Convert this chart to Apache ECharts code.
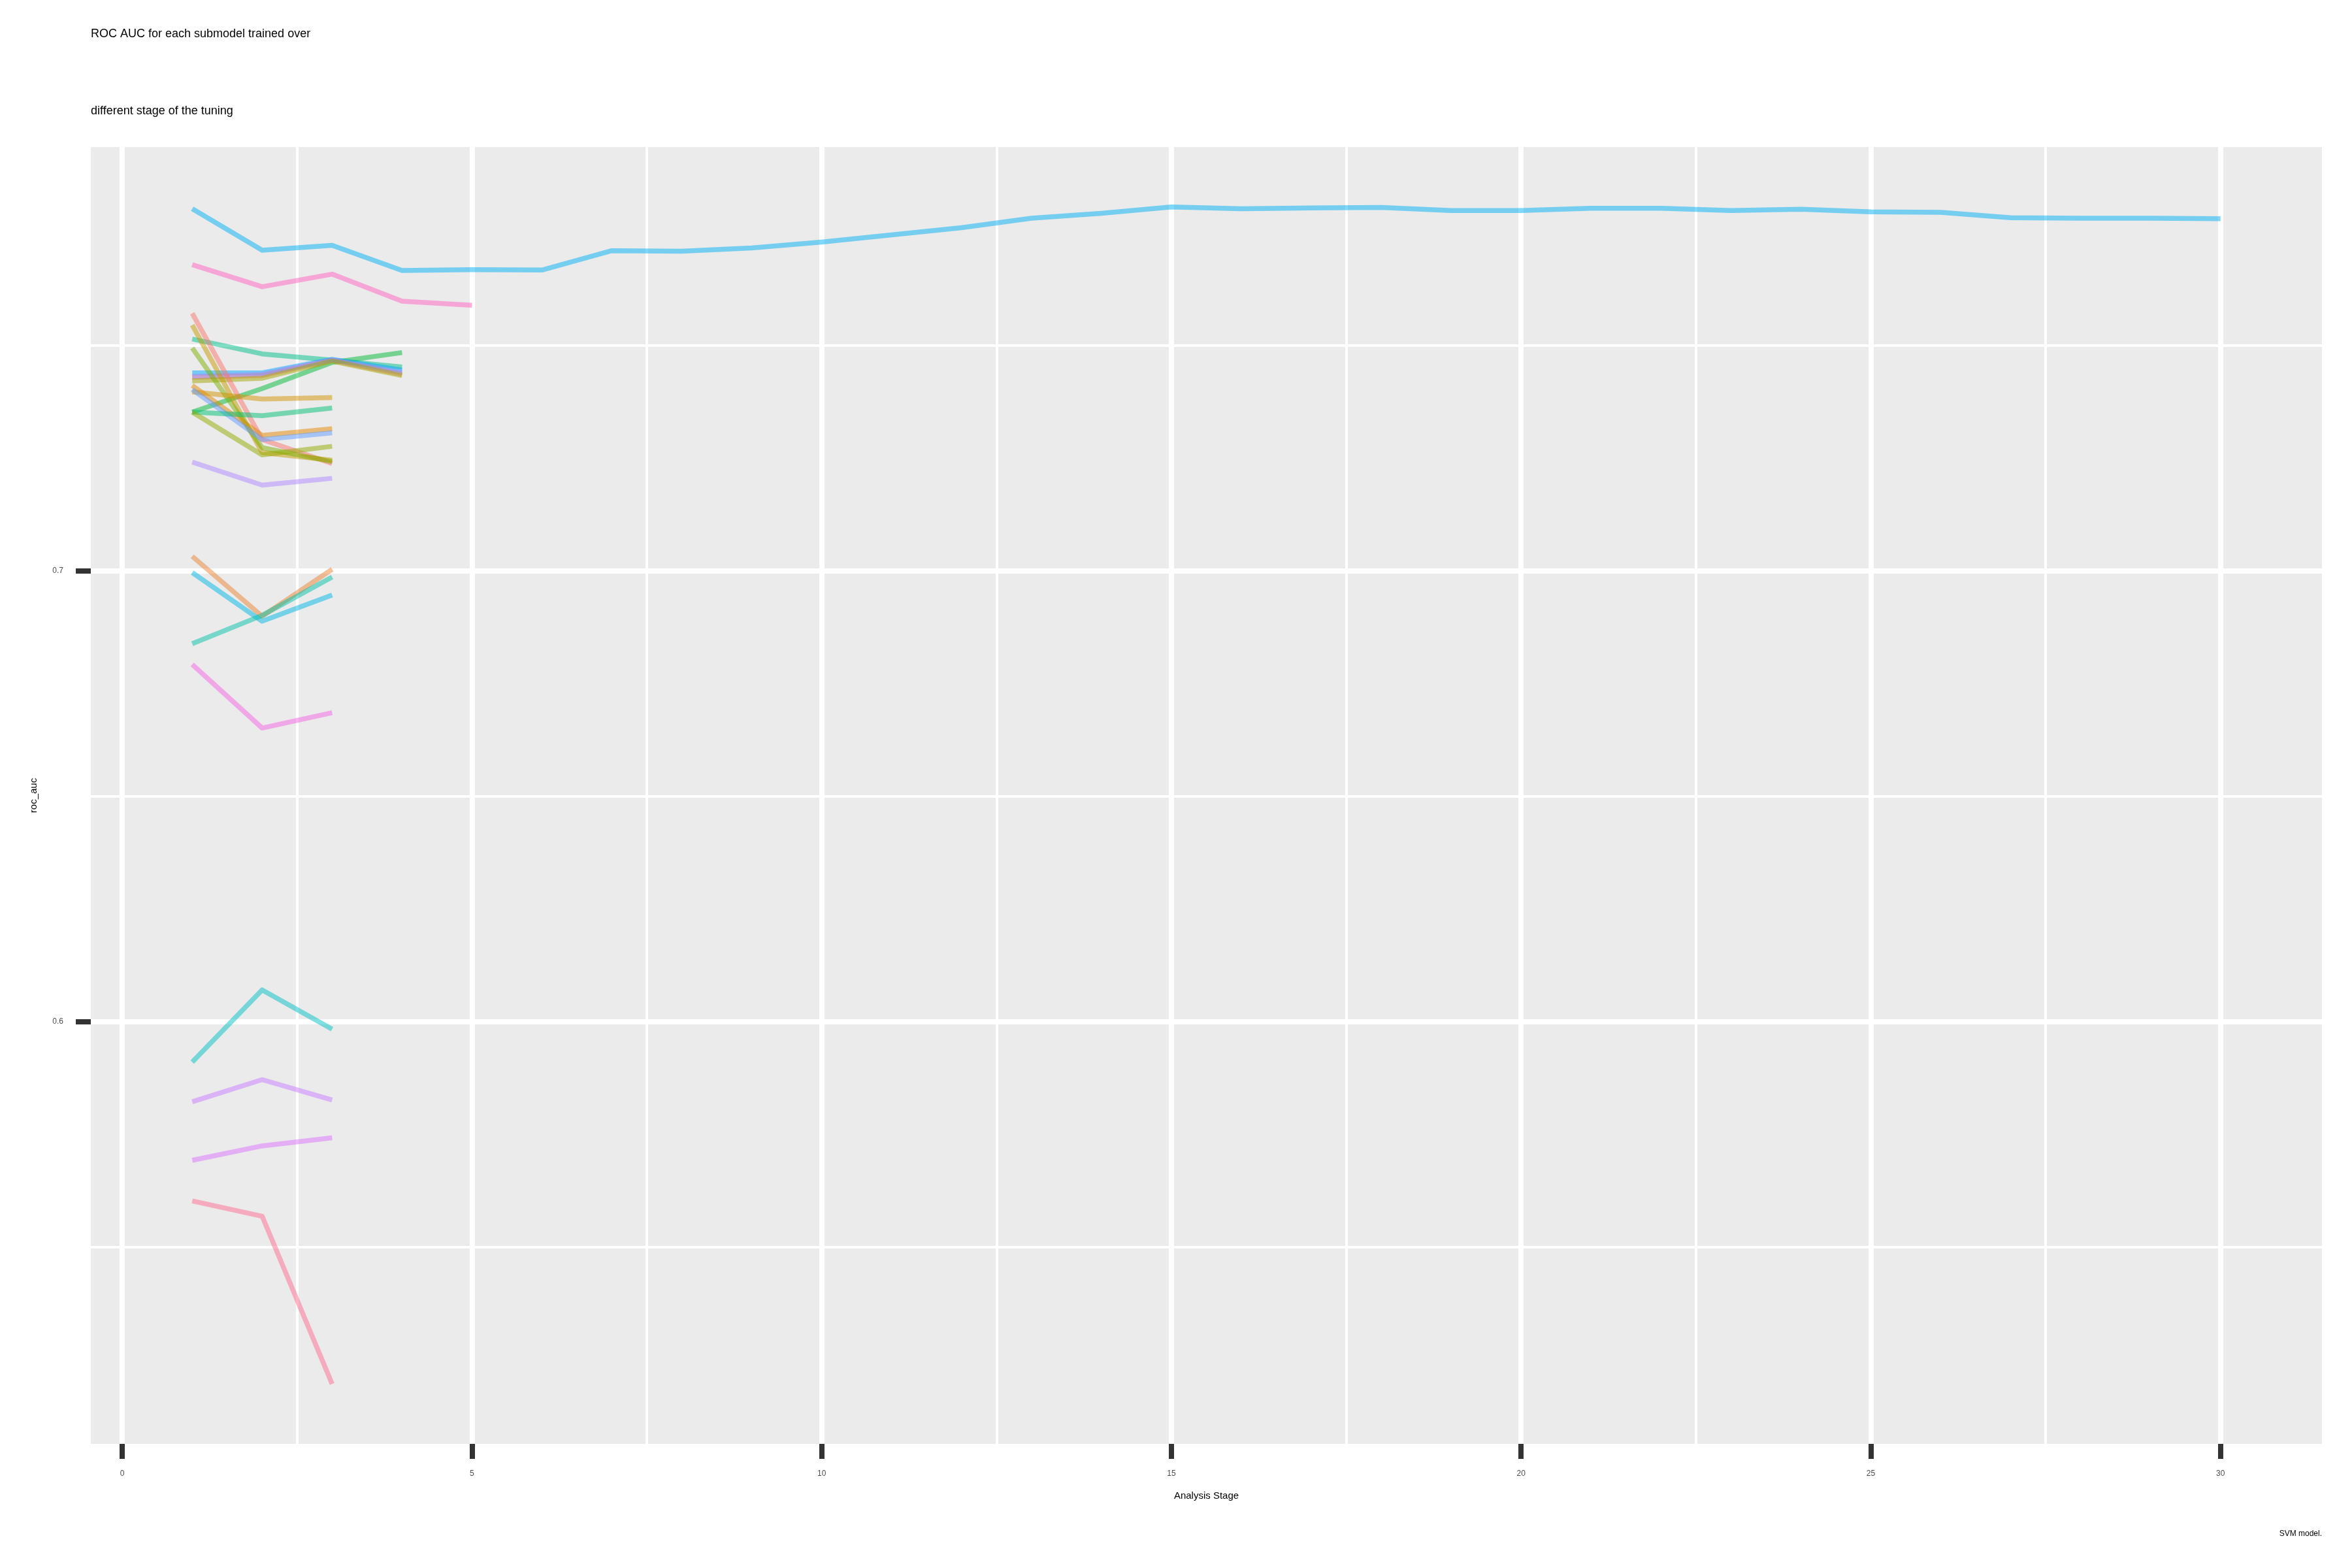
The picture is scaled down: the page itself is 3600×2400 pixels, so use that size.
<!DOCTYPE html>
<html>
<head>
<meta charset="utf-8">
<title>ROC AUC for each submodel</title>
<script src="https://cdn.jsdelivr.net/npm/echarts@6/dist/echarts.min.js"></script>
<style>
  html, body { margin: 0; padding: 0; background: #ffffff; }
  #graph_auc { width: 3600px; height: 2400px; }
</style>
</head>
<body>
<div id="graph_auc"></div>
<script>
// analysis stages (x) and the axis breaks
var stage = [1, 2, 3, 4, 5, 6, 7, 8, 9, 10, 11, 12, 13, 14, 15,
             16, 17, 18, 19, 20, 21, 22, 23, 24, 25, 26, 27, 28, 29, 30];
var xBreaks = [0, 5, 10, 15, 20, 25, 30];
var yBreaks = [0.6, 0.7];

// roc_auc of each submodel, one value per stage it was kept in
var auc_m01 = [0.7803, 0.7711, 0.7722, 0.7666, 0.7668, 0.7667, 0.7710, 0.7709, 0.7716, 0.7729,
               0.7745, 0.7761, 0.7782, 0.7793, 0.7807, 0.7803, 0.7805, 0.7806, 0.7799, 0.7799,
               0.7804, 0.7804, 0.7799, 0.7802, 0.7796, 0.7795, 0.7783, 0.7782, 0.7782, 0.7781];
var auc_m02 = [0.7679, 0.7630, 0.7658, 0.7598, 0.7589];
var auc_m03 = [0.7514, 0.7481, 0.7467, 0.7452];
var auc_m04 = [0.7352, 0.7404, 0.7462, 0.7484];
var auc_m05 = [0.7439, 0.7439, 0.7469, 0.7445];
var auc_m06 = [0.7429, 0.7433, 0.7467, 0.7436];
var auc_m07 = [0.7431, 0.7436, 0.7468, 0.7440];
var auc_m08 = [0.7421, 0.7427, 0.7465, 0.7433];
var auc_m09 = [0.7571, 0.7291, 0.7238];
var auc_m10 = [0.7545, 0.7262, 0.7245];
var auc_m11 = [0.7494, 0.7273, 0.7242];
var auc_m12 = [0.7411, 0.7300, 0.7315];
var auc_m13 = [0.7397, 0.7381, 0.7384];
var auc_m14 = [0.7402, 0.7291, 0.7306];
var auc_m15 = [0.7352, 0.7344, 0.7361];
var auc_m16 = [0.7352, 0.7257, 0.7276];
var auc_m17 = [0.7241, 0.7190, 0.7205];
var auc_m18 = [0.7032, 0.6899, 0.7003];
var auc_m19 = [0.6996, 0.6888, 0.6946];
var auc_m20 = [0.6838, 0.6901, 0.6986];
var auc_m21 = [0.6792, 0.6651, 0.6685];
var auc_m22 = [0.5910, 0.6070, 0.5983];
var auc_m23 = [0.5822, 0.5871, 0.5826];
var auc_m24 = [0.5692, 0.5724, 0.5742];
var auc_m25 = [0.5602, 0.5568, 0.5196];

var submodels = ['Model01', 'Model02', 'Model03', 'Model04', 'Model05', 'Model06', 'Model07',
                 'Model08', 'Model09', 'Model10', 'Model11', 'Model12', 'Model13', 'Model14',
                 'Model15', 'Model16', 'Model17', 'Model18', 'Model19', 'Model20', 'Model21',
                 'Model22', 'Model23', 'Model24', 'Model25'];
var aucAll = [auc_m01, auc_m02, auc_m03, auc_m04, auc_m05, auc_m06, auc_m07, auc_m08, auc_m09,
              auc_m10, auc_m11, auc_m12, auc_m13, auc_m14, auc_m15, auc_m16, auc_m17, auc_m18,
              auc_m19, auc_m20, auc_m21, auc_m22, auc_m23, auc_m24, auc_m25];

// ggplot-like hue colours
var palette = ['#00B0F6', '#FF61C3', '#00C08B', '#00BA38', '#00A9FF', '#F8766D', '#9590FF',
               '#A3A500', '#F8766D', '#C49A00', '#7CAE00', '#E58700', '#D39200', '#619CFF',
               '#00BF74', '#93AA00', '#AE87FF', '#EA8331', '#00B8E5', '#00C1A7', '#F564E3',
               '#00BFC4', '#C77CFF', '#DB72FB', '#FF6C91'];

var fontFam = 'Liberation Sans, Arial, Helvetica, sans-serif';

function drawGraph_auc() {
  var graph_auc = echarts.init(document.getElementById('graph_auc'), null, { renderer: 'canvas' });

  var series = aucAll.map(function (vals, i) {
    return {
      name: submodels[i],
      type: 'line',
      data: vals.map(function (v, k) { return [stage[k], v]; }),
      symbol: 'none',
      silent: true,
      clip: true,
      itemStyle: { color: palette[i] },
      lineStyle: {
        color: palette[i],
        width: 7.5,
        opacity: 0.5,
        cap: 'butt',
        join: 'round'
      }
    };
  });

  graph_auc.setOption({
    animation: false,
    backgroundColor: '#ffffff',
    textStyle: { fontFamily: fontFam },
    title: [
      {
        text: 'ROC AUC for each submodel trained over',
        left: 139, top: 43, padding: 0,
        textStyle: { fontSize: 18, fontWeight: 'normal', color: '#000000', fontFamily: fontFam }
      },
      {
        text: 'different stage of the tuning',
        left: 139, top: 161, padding: 0,
        textStyle: { fontSize: 18, fontWeight: 'normal', color: '#000000', fontFamily: fontFam }
      },
      {
        text: 'SVM model.',
        right: 46, top: 2342, padding: 0,
        textStyle: { fontSize: 12, fontWeight: 'normal', color: '#000000', fontFamily: fontFam }
      }
    ],
    grid: {
      left: 139,
      right: 46,
      top: 225,
      bottom: 190,
      show: true,
      backgroundColor: '#EBEBEB',
      borderWidth: 0,
      containLabel: false,
      outerBoundsMode: 'none'
    },
    xAxis: {
      type: 'value',
      min: -0.45,
      max: 31.45,
      minInterval: 5,
      maxInterval: 5,
      name: 'Analysis Stage',
      nameLocation: 'middle',
      nameGap: 72,
      nameTextStyle: { fontSize: 15, color: '#000000', fontFamily: fontFam },
      axisLine: { show: false, onZero: false },
      axisTick: {
        show: true,
        customValues: xBreaks,
        length: 23,
        lineStyle: { color: '#333333', width: 8 }
      },
      axisLabel: {
        customValues: xBreaks,
        margin: 40,
        fontSize: 12,
        color: '#4D4D4D',
        fontFamily: fontFam
      },
      splitLine: {
        show: true,
        lineStyle: { color: '#FFFFFF', width: 8 }
      },
      minorTick: { show: false, splitNumber: 2 },
      minorSplitLine: { show: true, lineStyle: { color: '#FFFFFF', width: 4 } }
    },
    yAxis: {
      type: 'value',
      min: 0.5063,
      max: 0.7940,
      minInterval: 0.1,
      maxInterval: 0.1,
      name: 'roc_auc',
      nameLocation: 'middle',
      nameGap: 80,
      nameTextStyle: { fontSize: 15, color: '#000000', fontFamily: fontFam },
      axisLine: { show: false, onZero: false },
      axisTick: {
        show: true,
        customValues: yBreaks,
        length: 23,
        lineStyle: { color: '#333333', width: 8 }
      },
      axisLabel: {
        customValues: yBreaks,
        margin: 42,
        fontSize: 12,
        color: '#4D4D4D',
        fontFamily: fontFam,
        formatter: function (v) { return v.toFixed(1); }
      },
      splitLine: {
        show: true,
        lineStyle: { color: '#FFFFFF', width: 8 }
      },
      minorTick: { show: false, splitNumber: 2 },
      minorSplitLine: { show: true, lineStyle: { color: '#FFFFFF', width: 4 } }
    },
    series: series
  });
}

drawGraph_auc();
</script>
</body>
</html>
